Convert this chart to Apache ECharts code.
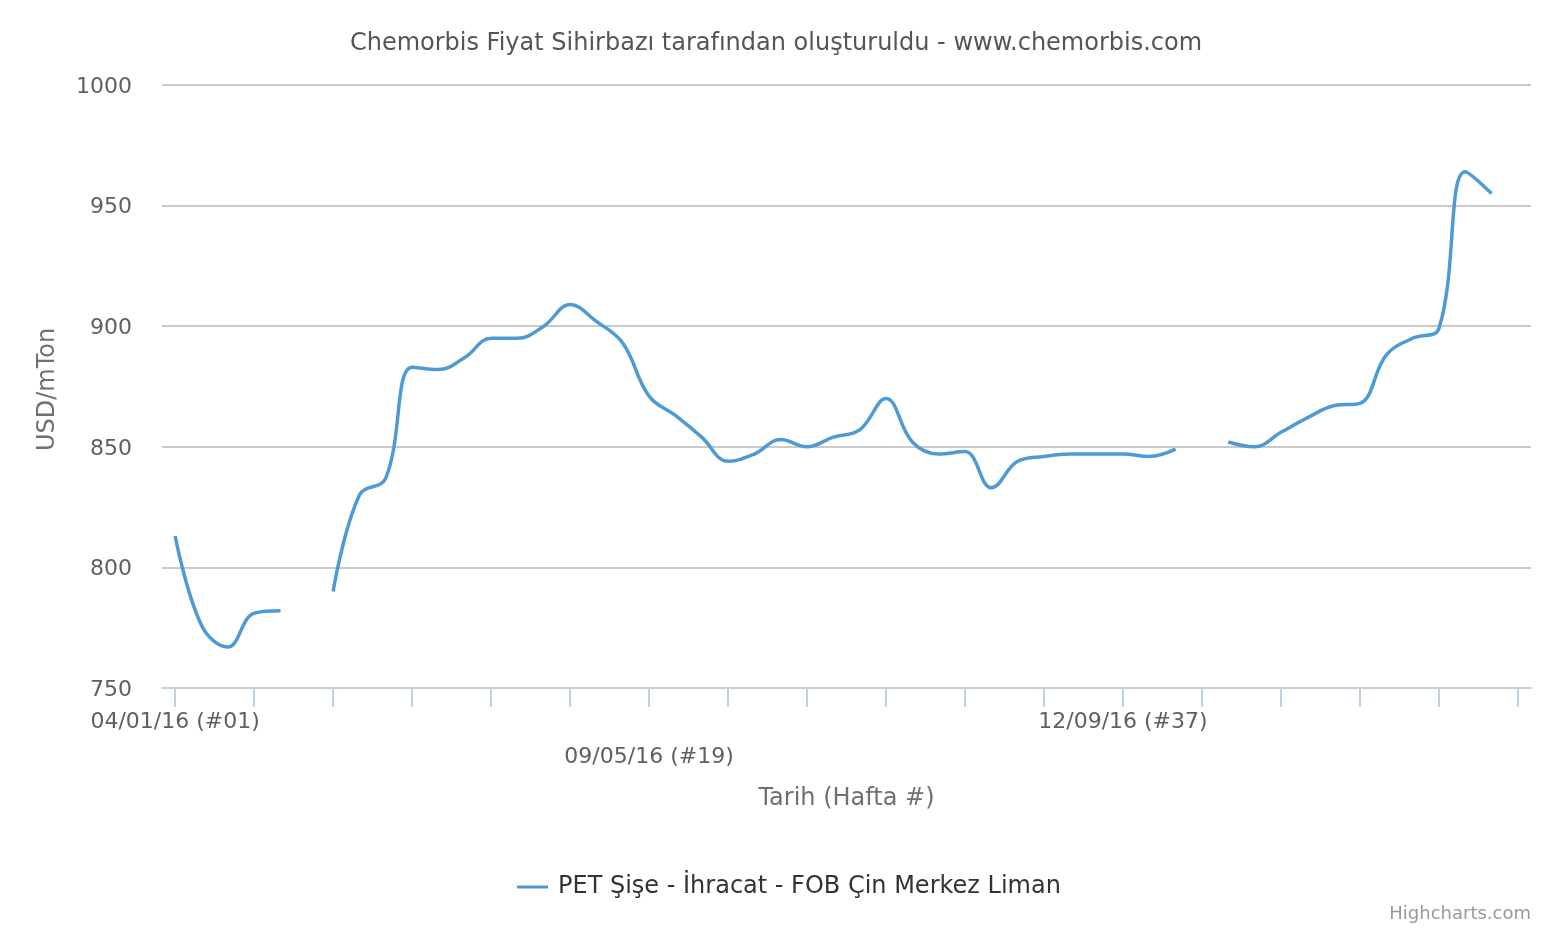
<!DOCTYPE html>
<html>
<head>
<meta charset="utf-8">
<script src="https://cdn.jsdelivr.net/npm/echarts@6/dist/echarts.min.js"></script>
<style>
html,body{margin:0;padding:0;background:#fff;}
#chart{width:1552px;height:930px;}
</style>
</head>
<body>
<div id="chart"></div>
<script>
const weeks = [
  '04/01/16 (#01)','11/01/16 (#02)','18/01/16 (#03)','25/01/16 (#04)','01/02/16 (#05)','08/02/16 (#06)',
  '15/02/16 (#07)','22/02/16 (#08)','29/02/16 (#09)','07/03/16 (#10)','14/03/16 (#11)','21/03/16 (#12)',
  '28/03/16 (#13)','04/04/16 (#14)','11/04/16 (#15)','18/04/16 (#16)','25/04/16 (#17)','02/05/16 (#18)',
  '09/05/16 (#19)','16/05/16 (#20)','23/05/16 (#21)','30/05/16 (#22)','06/06/16 (#23)','13/06/16 (#24)',
  '20/06/16 (#25)','27/06/16 (#26)','04/07/16 (#27)','11/07/16 (#28)','18/07/16 (#29)','25/07/16 (#30)',
  '01/08/16 (#31)','08/08/16 (#32)','15/08/16 (#33)','22/08/16 (#34)','29/08/16 (#35)','05/09/16 (#36)',
  '12/09/16 (#37)','19/09/16 (#38)','26/09/16 (#39)','03/10/16 (#40)','10/10/16 (#41)','17/10/16 (#42)',
  '24/10/16 (#43)','31/10/16 (#44)','07/11/16 (#45)','14/11/16 (#46)','21/11/16 (#47)','28/11/16 (#48)',
  '05/12/16 (#49)','12/12/16 (#50)','19/12/16 (#51)','26/12/16 (#52)'
];
const prices = [
  813, 776, 767, 781, 782, null,
  790, 830, 837, 883, 882, 887,
  895, 895, 900, 909, 902, 893,
  871, 863, 854, 844, 847, 853,
  850, 854, 857, 870, 852, 847,
  848, 833, 844, 846, 847, 847,
  847, 846, 849, null, 852, 850,
  856, 862, 867, 868, 888, 895,
  899, 964, 955, null
];
const labelledWeeks = ['04/01/16 (#01)', '09/05/16 (#19)', '12/09/16 (#37)'];
const yTicks = [750, 800, 850, 900, 950, 1000];
const seriesName = 'PET Şişe - İhracat - FOB Çin Merkez Liman';
const titleText = 'Chemorbis Fiyat Sihirbazı tarafından oluşturuldu - www.chemorbis.com';

const FONT = 'DejaVu Sans';
const chart = echarts.init(document.getElementById('chart'), null, {renderer: 'canvas'});
chart.setOption({
  animation: false,
  backgroundColor: '#ffffff',
  title: {
    text: titleText,
    left: 'center',
    top: 32,
    padding: 0,
    textStyle: {fontFamily: FONT, fontSize: 24, fontWeight: 'normal', color: '#555555'}
  },
  grid: {left: 162, right: 21, top: 85, bottom: 242, containLabel: false},
  legend: {
    left: 517,
    top: 875,
    padding: 0,
    icon: 'rect',
    itemWidth: 31,
    itemHeight: 3,
    textStyle: {fontFamily: FONT, fontSize: 24, color: '#333333', padding: [0, 0, 0, 5]},
    data: [seriesName]
  },
  xAxis: {
    type: 'category',
    data: weeks,
    boundaryGap: true,
    name: 'Tarih (Hafta #)',
    nameLocation: 'middle',
    nameGap: 99,
    nameTextStyle: {fontFamily: FONT, fontSize: 24, color: '#707070'},
    axisLine: {show: true, lineStyle: {color: '#C0D0E0', width: 2}},
    axisTick: {
      show: true,
      alignWithLabel: true,
      length: 19,
      interval: function (index) { return index % 3 === 0; },
      lineStyle: {color: '#C0D0E0', width: 2}
    },
    axisLabel: {
      interval: function (index, value) { return labelledWeeks.indexOf(value) >= 0; },
      formatter: function (value) {
        return labelledWeeks.indexOf(value) === 1 ? '\n' + value : value;
      },
      margin: 17,
      lineHeight: 35,
      fontFamily: FONT,
      fontSize: 22,
      color: '#606060'
    },
    splitLine: {show: false},
    z: 5
  },
  yAxis: {
    type: 'value',
    min: yTicks[0],
    max: yTicks[yTicks.length - 1],
    interval: 50,
    name: 'USD/mTon',
    nameLocation: 'middle',
    nameGap: 102,
    nameRotate: 90,
    nameTextStyle: {fontFamily: FONT, fontSize: 24, color: '#707070', padding: [0, 6, 0, 0]},
    axisLine: {show: false},
    axisTick: {show: false},
    axisLabel: {
      margin: 30,
      formatter: function (v) { return '{v|' + String(v) + '}'; },
      rich: {
        v: {fontFamily: FONT, fontSize: 22, color: '#606060', padding: [4, 0, 0, 0]}
      }
    },
    splitLine: {show: true, lineStyle: {color: '#b8b8b8', width: 1.5}}
  },
  series: [{
    name: seriesName,
    type: 'line',
    data: prices,
    smooth: 0.4,
    connectNulls: false,
    showSymbol: false,
    symbol: 'none',
    lineStyle: {color: '#4E9AD4', width: 3.5},
    itemStyle: {color: '#4E9AD4'},
    z: 3
  }],
  graphic: [{
    type: 'text',
    right: 21,
    top: 905,
    style: {text: 'Highcharts.com', fontFamily: FONT, fontSize: 18, fill: '#999999'}
  }]
});
</script>
</body>
</html>
